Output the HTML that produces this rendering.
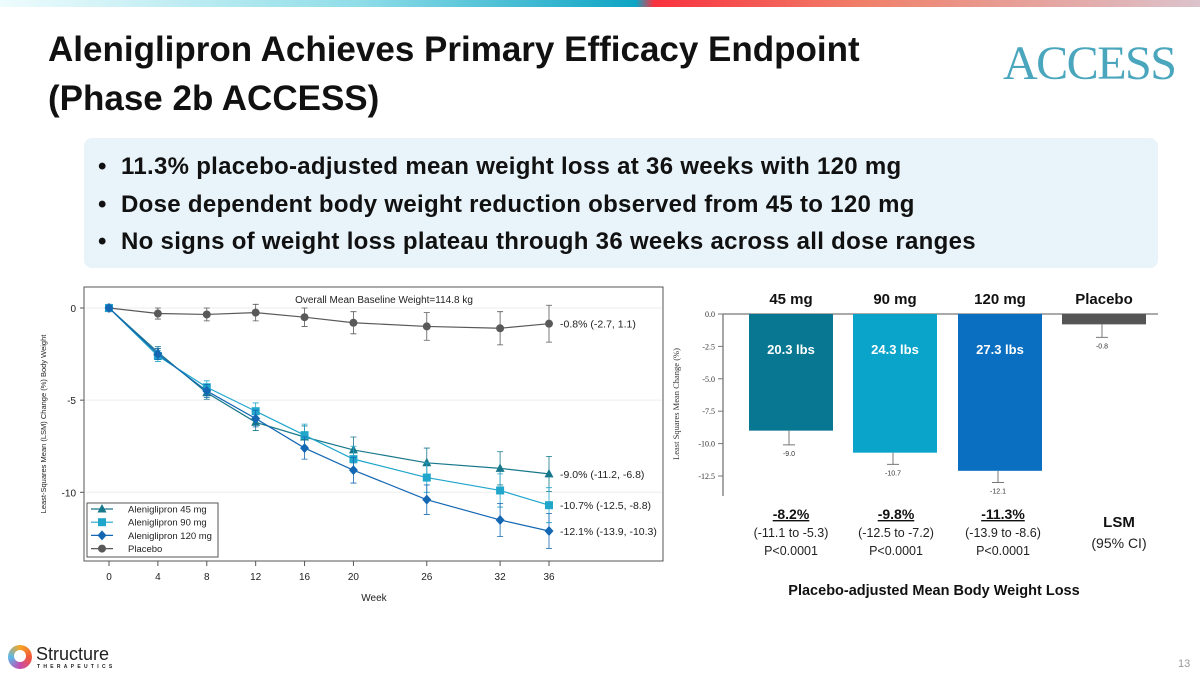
<!DOCTYPE html>
<html><head><meta charset="utf-8"><style>
body{margin:0;width:1200px;height:675px;overflow:hidden;background:#fff;font-family:"Liberation Sans",Arial,sans-serif;position:relative}
.abs{position:absolute}
.bl{position:relative;padding-left:23px;white-space:nowrap}
.bl span.b{position:absolute;left:0;top:0}
</style></head><body>
<div class="abs" style="left:0;top:0;width:1200px;height:7px;background:linear-gradient(90deg,#eefcfd 0%,#8fdde8 30%,#0ea4c4 53%,#f8323f 54.5%,#f0806a 72%,#dcc3cc 100%)"></div>
<div class="abs" style="left:48px;top:25px;font-size:35px;font-weight:bold;color:#111;line-height:49px;white-space:nowrap">Aleniglipron Achieves Primary Efficacy Endpoint<br>(Phase 2b ACCESS)</div>
<div class="abs" style="left:1003px;top:36px;font-family:'Liberation Serif',serif;font-size:48px;color:#4aa6bd;letter-spacing:-1.5px">ACCESS</div>
<div class="abs" style="left:84px;top:138px;width:1074px;height:130px;background:#e8f3fa;border-radius:8px"></div>
<div class="abs" style="left:98px;top:148px;font-size:24px;font-weight:bold;color:#111;line-height:37.5px;letter-spacing:0.3px">
<div class="bl"><span class="b">•</span>11.3% placebo-adjusted mean weight loss at 36 weeks with 120 mg</div>
<div class="bl"><span class="b">•</span>Dose dependent body weight reduction observed from 45 to 120 mg</div>
<div class="bl"><span class="b">•</span>No signs of weight loss plateau through 36 weeks across all dose ranges</div>
</div>
<svg class="abs" style="left:0;top:0" width="1200" height="675" id="charts"></svg>
<div class="abs" style="left:8px;top:645px;width:24px;height:24px;border-radius:50%;background:conic-gradient(#f5a623,#f15a3a,#c54bb0,#5ab8e8,#f5a623)"><div style="position:absolute;left:6px;top:5px;width:12px;height:12px;border-radius:50%;background:#fff"></div></div>
<div class="abs" style="left:36px;top:644px;font-size:18px;color:#222">Structure</div>
<div class="abs" style="left:37px;top:664px;font-size:5px;letter-spacing:3.3px;color:#222;font-weight:bold">THERAPEUTICS</div>
<div class="abs" style="left:1178px;top:658px;font-size:11px;color:#999">13</div>
<script>
const weeks=[0,4,8,12,16,20,26,32,36];
const placebo=[0,-0.3,-0.35,-0.25,-0.5,-0.8,-1.0,-1.1,-0.85];
const placeboErr=[0.2,0.3,0.35,0.45,0.5,0.6,0.75,0.9,1.0];
const mg45=[0,-2.4,-4.6,-6.2,-7.0,-7.7,-8.4,-8.7,-9.0];
const mg90=[0,-2.6,-4.3,-5.6,-6.9,-8.2,-9.2,-9.9,-10.7];
const mg120=[0,-2.5,-4.5,-6.0,-7.6,-8.8,-10.4,-11.5,-12.1];
const doseErr=[0.15,0.3,0.35,0.45,0.6,0.7,0.8,0.9,0.95];
const endLabels=["-0.8% (-2.7, 1.1)","-9.0% (-11.2, -6.8)","-10.7% (-12.5, -8.8)","-12.1% (-13.9, -10.3)"];
const lineTicks=[0,-5,-10];
const barCats=["45 mg","90 mg","120 mg","Placebo"];
const barVals=[-9.0,-10.7,-12.1,-0.8];
const barErrLow=[-10.1,-11.6,-13.0,-1.8];
const barLbs=["20.3 lbs","24.3 lbs","27.3 lbs",""];
const barTicks=[0,-2.5,-5,-7.5,-10,-12.5];
const adjPct=["-8.2%","-9.8%","-11.3%"];
const adjCI=["(-11.1 to -5.3)","(-12.5 to -7.2)","(-13.9 to -8.6)"];
const adjP=["P<0.0001","P<0.0001","P<0.0001"];

const svg=document.getElementById('charts');
const NS='http://www.w3.org/2000/svg';
function mk(tag,at,parent){const e=document.createElementNS(NS,tag);for(const k in at)e.setAttribute(k,at[k]);(parent||svg).appendChild(e);return e;}
function tx(x,y,s,at){const e=mk('text',Object.assign({x:x,y:y},at));e.textContent=s;return e;}

// ---- line chart
const lx=w=>109+(w/36)*440;
const ly=v=>308-v*18.43;
let e=mk('rect',{x:84,y:287,width:579,height:274,fill:'#fff',stroke:'#555','stroke-width':1});

lineTicks.forEach(t=>{
 e=mk('line',{x1:85,x2:662,y1:ly(t),y2:ly(t),stroke:'#eee'});
 
 e=mk('line',{x1:80,x2:84,y1:ly(t),y2:ly(t),stroke:'#555'});
 
 e=tx(76,ly(t)+4,String(t),{'font-size':10,'text-anchor':'end',fill:'#222'});
 
});
weeks.forEach(w=>{
 e=mk('line',{x1:lx(w),x2:lx(w),y1:561,y2:566,stroke:'#555'});
 
 e=tx(lx(w),580,String(w),{'font-size':10,'text-anchor':'middle',fill:'#222'});
 
});
e=tx(374,601,'Week',{'font-size':10,'text-anchor':'middle',fill:'#222'});

e=tx(0,0,'Least-Squares Mean (LSM) Change (%) Body Weight',{'font-size':7.5,'text-anchor':'middle',fill:'#222',transform:'translate(46,424) rotate(-90)'});

e=tx(384,303,'Overall Mean Baseline Weight=114.8 kg',{'font-size':10,'text-anchor':'middle',fill:'#222'});


const series=[
 {name:'placebo',vals:placebo,err:placeboErr,color:'#595959',marker:'circle',label:endLabels[0]},
 {name:'45mg',vals:mg45,err:doseErr,color:'#17788b',marker:'tri',label:endLabels[1]},
 {name:'90mg',vals:mg90,err:doseErr,color:'#20a6cb',marker:'sq',label:endLabels[2]},
 {name:'120mg',vals:mg120,err:doseErr,color:'#1467b3',marker:'dia',label:endLabels[3]}
];
function marker(type,x,y,c){
 if(type==='circle')return mk('circle',{cx:x,cy:y,r:4,fill:c});
 if(type==='tri')return mk('polygon',{points:`${x},${y-5} ${x-4.5},${y+3.5} ${x+4.5},${y+3.5}`,fill:c});
 if(type==='sq')return mk('rect',{x:x-4,y:y-4,width:8,height:8,fill:c});
 return mk('polygon',{points:`${x},${y-5} ${x+4.5},${y} ${x},${y+5} ${x-4.5},${y}`,fill:c});
}
series.forEach(s=>{
 s.vals.forEach((v,i)=>{
  const x=lx(weeks[i]),y1=ly(v+s.err[i]),y2=ly(v-s.err[i]);
  e=mk('path',{d:`M${x},${y1}V${y2}M${x-3},${y1}h6M${x-3},${y2}h6`,stroke:s.color,'stroke-width':0.8,fill:'none'});
  
 });
 e=mk('polyline',{points:s.vals.map((v,i)=>lx(weeks[i])+','+ly(v)).join(' '),fill:'none',stroke:s.color,'stroke-width':1.2});
 
 s.vals.forEach((v,i)=>{
  e=marker(s.marker,lx(weeks[i]),ly(v),s.color);
  
 });
 const lv=s.vals[s.vals.length-1];
 e=tx(560,ly(lv)+4,s.label,{'font-size':10.5,fill:'#222'});
 
});
// legend
e=mk('rect',{x:87,y:503,width:131,height:54,fill:'#fff',stroke:'#555'});

const legOrder=[1,2,3,0],legNames=['Aleniglipron 45 mg','Aleniglipron 90 mg','Aleniglipron 120 mg','Placebo'];
legOrder.forEach((si,k)=>{
 const s=series[si],y=509+k*13.2;
 e=mk('line',{x1:91,x2:113,y1:y,y2:y,stroke:s.color,'stroke-width':1.2});
 
 e=marker(s.marker,102,y,s.color);
 
 e=tx(128,y+3.5,legNames[k],{'font-size':9.5,fill:'#222'});
 
});

// ---- bar chart
const by=v=>314-v*12.96;
const bx=[749,853,958,1062],bw=84;
const barColors=['#087892','#0aa4ca','#0a6fc0','#555'];
e=mk('line',{x1:723,x2:1158,y1:314,y2:314,stroke:'#777','stroke-width':1.3});

e=mk('line',{x1:723,x2:723,y1:314,y2:496,stroke:'#777','stroke-width':1.3});

barTicks.forEach(t=>{
 e=mk('line',{x1:718,x2:723,y1:by(t),y2:by(t),stroke:'#777'});
 
 e=tx(715,by(t)+3,t.toFixed(1),{'font-size':8,'font-family':'Liberation Serif,serif','text-anchor':'end',fill:'#333'});
 
});
e=tx(0,0,'Least Squares Mean Change (%)',{'font-size':8.5,'font-family':'Liberation Serif,serif','text-anchor':'middle',fill:'#333',transform:'translate(679,404) rotate(-90)'});

barVals.forEach((v,i)=>{
 const cx=bx[i]+bw/2;
 e=tx(cx,304,barCats[i],{'font-size':15,'font-weight':'bold','text-anchor':'middle',fill:'#111'});
 
 e=mk('rect',{x:bx[i],y:314,width:bw,height:by(v)-314,fill:barColors[i]});
 
 const ex=bx[i]+bw/2-2;
 e=mk('path',{d:`M${ex},${by(v)}V${by(barErrLow[i])}M${ex-6},${by(barErrLow[i])}h12`,stroke:'#777','stroke-width':1,fill:'none'});
 
 e=tx(ex,by(barErrLow[i])+11,v.toFixed(1),{'font-size':7,'text-anchor':'middle',fill:'#333'});
 
 if(barLbs[i]){e=tx(cx,354,barLbs[i],{'font-size':13,'font-weight':'bold','text-anchor':'middle',fill:'#fff'});
 }
});
const adjX=[791,896,1003];
adjPct.forEach((p,i)=>{
 e=tx(adjX[i],519,p,{'font-size':14,'font-weight':'bold','text-anchor':'middle',fill:'#111','text-decoration':'underline'});
 
 e=tx(adjX[i],537,adjCI[i],{'font-size':12.5,'text-anchor':'middle',fill:'#222'});
 
 e=tx(adjX[i],555,adjP[i],{'font-size':12.5,'text-anchor':'middle',fill:'#222'});
 
});
e=tx(1119,527,'LSM',{'font-size':15,'font-weight':'bold','text-anchor':'middle',fill:'#111'});

e=tx(1119,548,'(95% CI)',{'font-size':14,'text-anchor':'middle',fill:'#222'});

e=tx(934,595,'Placebo-adjusted Mean Body Weight Loss',{'font-size':14.5,'font-weight':'bold','text-anchor':'middle',fill:'#111'});

</script>
</body></html>
